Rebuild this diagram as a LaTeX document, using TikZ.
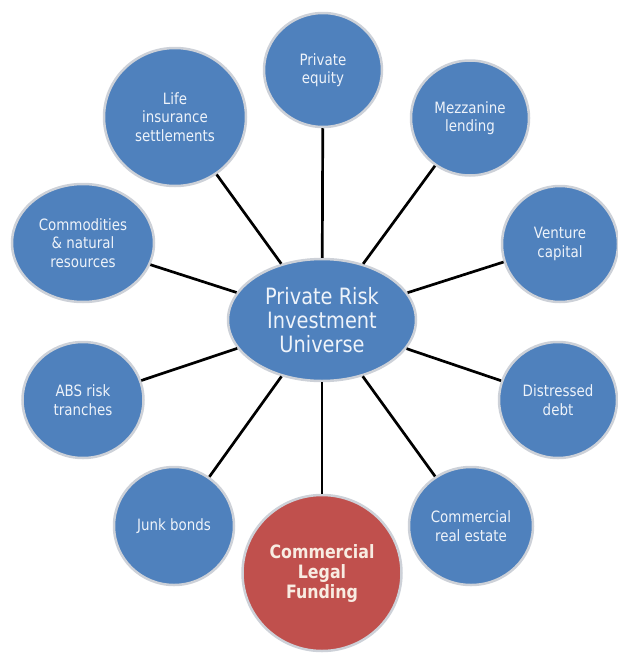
\documentclass[tikz,border=0pt]{standalone}
\usepackage{fontspec}
\setmainfont[FakeStretch=0.86]{DejaVu Sans}
\usetikzlibrary{shapes.geometric}
\definecolor{bluemain}{RGB}{79,129,189}
\definecolor{bluedark}{RGB}{60,100,152}
\definecolor{redmain}{RGB}{192,80,77}
\definecolor{reddark}{RGB}{150,58,56}
\definecolor{rim}{RGB}{205,209,216}
\definecolor{bluetext}{RGB}{238,243,250}
\definecolor{redtext}{RGB}{248,236,226}
\pgfdeclareradialshading{bluball}{\pgfpoint{0bp}{0bp}}{color(0bp)=(bluemain); color(40bp)=(bluemain); color(49bp)=(bluedark); color(50bp)=(bluedark)}
\pgfdeclareradialshading{redball}{\pgfpoint{0bp}{0bp}}{color(0bp)=(redmain); color(40bp)=(redmain); color(49bp)=(reddark); color(50bp)=(reddark)}
\tikzset{
  ball/.style={ellipse, inner sep=0pt, shade, shading=bluball, draw=rim, line width=2.5pt,
    text=bluetext, align=center, font=\fontsize{15.6}{18.5}\selectfont},
  hubball/.style={ball, font=\fontsize{22.5}{24}\selectfont},
  redballstyle/.style={ball, shading=redball, text=redtext, font=\fontsize{18.4}{20}\selectfont\bfseries},
  link/.style={draw=black, line width=2.7pt}
}
\begin{document}
\begin{tikzpicture}[x=1pt,y=-1pt]
\useasboundingbox (0,0) rectangle (618,656);
\node[hubball, minimum width=188pt, minimum height=122pt] (C) at (322,320) {Private Risk\\Investment\\Universe};
\node[ball, minimum width=118pt, minimum height=114pt] (PE) at (323,70) {Private\\equity};
\node[ball, minimum width=142pt, minimum height=138pt] (LI) at (175,117) {Life\\insurance\\settlements};
\node[ball, minimum width=142pt, minimum height=118pt] (CO) at (83,243) {Commodities\\\& natural\\resources};
\node[ball, minimum width=118pt, minimum height=115pt] (ME) at (470,118) {Mezzanine\\lending};
\node[ball, minimum width=116pt, minimum height=116pt] (VC) at (560,244) {Venture\\capital};
\node[ball, minimum width=118pt, minimum height=116pt] (DD) at (558,400) {Distressed\\debt};
\node[ball, minimum width=121pt, minimum height=116pt] (AB) at (83,400) {ABS risk\\tranches};
\node[ball, minimum width=120pt, minimum height=118pt] (JB) at (174,526) {Junk bonds};
\node[ball, minimum width=124pt, minimum height=118pt] (CR) at (471,526) {Commercial\\real estate};
\node[redballstyle, minimum width=159pt, minimum height=156pt] (CL) at (322,573) {Commercial\\Legal\\Funding};
\foreach \n in {PE,LI,CO,ME,VC,DD,AB,JB,CR,CL} {
  \draw[link] (C) -- (\n);
}
\end{tikzpicture}
\end{document}
